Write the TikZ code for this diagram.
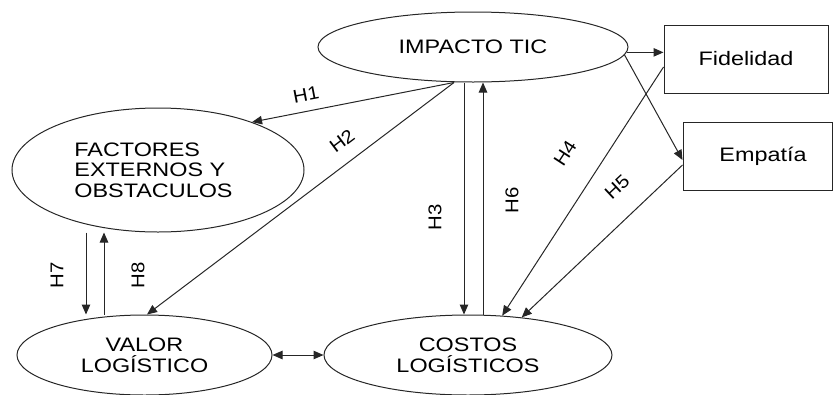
\documentclass[tikz,border=0pt]{standalone}
\usepackage{fontspec}
\setmainfont[FakeStretch=1.2]{Liberation Sans}
\newfontfamily\lblfont[FakeStretch=1.1]{Liberation Sans}
\usetikzlibrary{shapes.geometric,arrows.meta,calc}
\begin{document}
\begin{tikzpicture}[x=1pt,y=-1pt,
  ell/.style={draw=black!85, ellipse, line width=1pt, inner sep=0pt, text=black,
    font=\fontsize{19.5}{20.7}\selectfont, align=center},
  boxn/.style={draw=black!85, rectangle, line width=1pt, inner sep=0pt, text=black,
    font=\fontsize{19.5}{20.7}\selectfont},
  arr/.style={draw=black!85, line width=1pt, -{Triangle[length=10pt,width=8.5pt]}},
  darr/.style={draw=black!85, line width=1pt, {Triangle[length=10pt,width=8.5pt]}-{Triangle[length=10pt,width=8.5pt]}},
  lbl/.style={font=\lblfont\fontsize{18.5}{18.5}\selectfont, inner sep=0pt, text=black}]
\useasboundingbox (0,0) rectangle (833,394);

% nodes
\node[ell, minimum width=310pt, minimum height=70pt] (imp) at (473,47) {IMPACTO TIC};
\node[ell, minimum width=292pt, minimum height=124pt, align=left] (fac) at (158,170)
  {FACTORES\\EXTERNOS Y\\OBSTACULOS\hspace*{9pt}};
\node[ell, minimum width=255pt, minimum height=80pt] (val) at (144.5,355) {VALOR\\LOGÍSTICO};
\node[ell, minimum width=288pt, minimum height=80pt] (cos) at (468,355) {COSTOS\\LOGÍSTICOS};
\node[boxn, minimum width=164pt, minimum height=68pt] (fid) at (746,59) {Fidelidad};
\node[boxn, minimum width=149pt, minimum height=68pt] (emp) at (757.5,156) {\hspace*{11pt}Empatía};

% helper coordinates
\coordinate (hs) at ($(imp.south)+(-19,0)$);
\coordinate (h3s) at ($(imp.south)+(-9,0)$);
\coordinate (h6s) at ($(cos.north)+(15,0)$);
\coordinate (h2e) at ($(val.north)+(2.5,0)$);
\coordinate (h4s) at ($(fid.west)+(0,8)$);
\coordinate (empe) at ($(emp.west)+(0,4)$);
\coordinate (h5s) at ($(emp.west)+(0,9)$);
\coordinate (h7s) at ($(fac.south)+(-72,0)$);
\coordinate (h8s) at ($(val.north)+(-40.5,0)$);

% connectors
\draw[arr] (hs) -- (fac.27.5);
\draw[arr] (hs) -- (h2e);
\draw[arr] (h3s) -- (h3s |- cos.north);
\draw[arr] (h6s) -- (h6s |- imp.south);
\draw[arr] (imp.-2.25) -- (imp.-2.25 -| fid.west);
\draw[arr] (imp.-3.5) -- (empe);
\draw[arr] (h4s) -- (cos.49);
\draw[arr] (h5s) -- (cos.35.6);
\draw[arr] (h7s) -- (h7s |- val.north);
\draw[arr] (h8s) -- (h8s |- fac.south);
\draw[darr] (val.east) -- (cos.west);

% labels
\node[lbl, rotate=11] (l1) at (306,95) {H1};
\node[lbl, rotate=37] (l2) at (342,141) {H2};
\node[lbl, rotate=90] (l3) at (435,217) {H3};
\node[lbl, rotate=57] (l4) at (565,153) {H4};
\node[lbl, rotate=43] (l5) at (617,187) {H5};
\node[lbl, rotate=90] (l6) at (512,200) {H6};
\node[lbl, rotate=90] (l7) at (57,275) {H7};
\node[lbl, rotate=90] (l8) at (138,275) {H8};
\end{tikzpicture}
\end{document}
